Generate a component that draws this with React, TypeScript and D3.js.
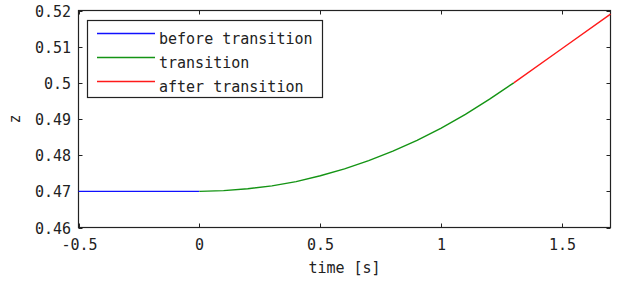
import React, { useEffect, useRef } from "react";
import * as d3 from "d3";

// --- Data ---
const beforeT = [-0.5, -0.25, 0];
const beforeZ = [0.47, 0.47, 0.47];

const transT = [0, 0.1, 0.2, 0.3, 0.4, 0.5, 0.6, 0.7, 0.8, 0.9, 1.0, 1.1, 1.2, 1.3];
const transZ = [
  0.47, 0.4702, 0.4707, 0.4715, 0.4727, 0.4743, 0.4762, 0.4785, 0.4811, 0.4841,
  0.4875, 0.4913, 0.4955, 0.5,
];

const afterT = [1.3, 1.5, 1.7];
const afterZ = [0.5, 0.5095, 0.519];

const xTicks = [-0.5, 0, 0.5, 1, 1.5];
const xTickLabels = ["-0.5", "0", "0.5", "1", "1.5"];
const yTicks = [0.46, 0.47, 0.48, 0.49, 0.5, 0.51, 0.52];
const yTickLabels = ["0.46", "0.47", "0.48", "0.49", "0.5", "0.51", "0.52"];

const seriesNames = ["before transition", "transition", "after transition"];
const seriesColors = ["#1010ff", "#149414", "#ff1a1a"];

const W = 623;
const H = 284;
const FONT = "'DejaVu Sans Mono', monospace";
const FS = "15px";

const App: React.FC = () => {
  const svgRef = useRef<SVGSVGElement>(null);

  useEffect(() => {
    if (!svgRef.current) return;
    const svg = d3.select(svgRef.current);
    svg.selectAll("*").remove();

    const left = 78.5;
    const right = 610.5;
    const top = 10.5;
    const bottom = 227.5;

    const x = d3.scaleLinear().domain([-0.5, 1.7]).range([left, right]);
    const y = d3.scaleLinear().domain([0.46, 0.52]).range([bottom, top]);

    const ink = "#222";
    const tick = 4;

    // box
    svg
      .append("rect")
      .attr("x", left)
      .attr("y", top)
      .attr("width", right - left)
      .attr("height", bottom - top)
      .attr("fill", "white")
      .attr("stroke", ink)
      .attr("stroke-width", 1.2);

    // x ticks (bottom + mirrored top), pointing inward
    xTicks.forEach((t, i) => {
      const px = Math.round(x(t)) + 0.5;
      svg.append("line").attr("x1", px).attr("x2", px).attr("y1", bottom).attr("y2", bottom - tick).attr("stroke", ink);
      svg.append("line").attr("x1", px).attr("x2", px).attr("y1", top).attr("y2", top + tick).attr("stroke", ink);
      svg
        .append("text")
        .attr("x", px)
        .attr("y", 250)
        .attr("text-anchor", "middle")
        .style("font-family", FONT)
        .style("font-size", FS)
        .style("fill", ink)
        .text(xTickLabels[i]);
    });

    // y ticks (left + mirrored right)
    yTicks.forEach((v, i) => {
      const py = Math.round(y(v)) + 0.5;
      svg.append("line").attr("x1", left).attr("x2", left + tick).attr("y1", py).attr("y2", py).attr("stroke", ink);
      svg.append("line").attr("x1", right).attr("x2", right - tick).attr("y1", py).attr("y2", py).attr("stroke", ink);
      svg
        .append("text")
        .attr("x", 71)
        .attr("y", py)
        .attr("dy", "0.35em")
        .attr("text-anchor", "end")
        .style("font-family", FONT)
        .style("font-size", FS)
        .style("fill", ink)
        .text(yTickLabels[i]);
    });

    // axis labels
    svg
      .append("text")
      .attr("x", (left + right) / 2)
      .attr("y", 273)
      .attr("text-anchor", "middle")
      .style("font-family", FONT)
      .style("font-size", FS)
      .style("fill", ink)
      .text("time [s]");

    svg
      .append("text")
      .attr("transform", `translate(20,${(top + bottom) / 2}) rotate(-90)`)
      .attr("text-anchor", "middle")
      .style("font-family", FONT)
      .style("font-size", FS)
      .style("fill", ink)
      .text("z");

    // lines
    const line = d3
      .line<[number, number]>()
      .x((d) => x(d[0]))
      .y((d) => y(d[1]));

    const series: [number[], number[]][] = [
      [beforeT, beforeZ],
      [transT, transZ],
      [afterT, afterZ],
    ];
    series.forEach(([ts, zs], i) => {
      svg
        .append("path")
        .datum(ts.map((t, j) => [t, zs[j]] as [number, number]))
        .attr("d", line)
        .attr("fill", "none")
        .attr("stroke", seriesColors[i])
        .attr("stroke-width", 1.4);
    });

    // legend
    const lg = svg.append("g");
    lg.append("rect")
      .attr("x", 87.5)
      .attr("y", 20.5)
      .attr("width", 235)
      .attr("height", 77)
      .attr("fill", "white")
      .attr("stroke", ink)
      .attr("stroke-width", 1.2);

    seriesNames.forEach((name, i) => {
      const ly = 33.5 + i * 24;
      lg.append("line")
        .attr("x1", 97)
        .attr("x2", 155)
        .attr("y1", ly)
        .attr("y2", ly)
        .attr("stroke", seriesColors[i])
        .attr("stroke-width", 1.4);
      lg.append("text")
        .attr("x", 159)
        .attr("y", ly + 10)
        .style("font-family", FONT)
        .style("font-size", FS)
        .style("fill", ink)
        .text(name);
    });
  }, []);

  return (
    <svg
      ref={svgRef}
      width={W}
      height={H}
      style={{ position: "absolute", left: 0, top: 0, background: "white" }}
    />
  );
};

export default App;
